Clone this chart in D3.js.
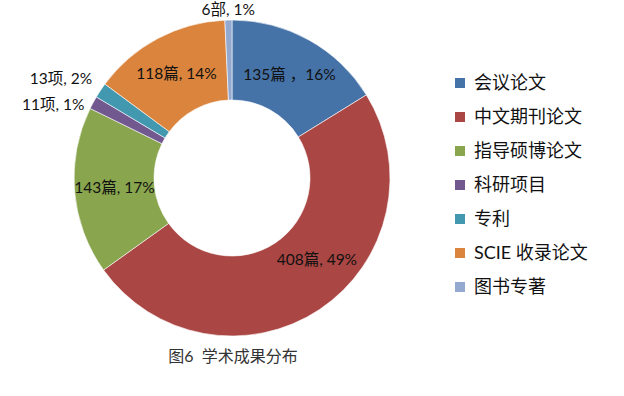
<!DOCTYPE html>
<html lang="zh">
<head>
<meta charset="utf-8">
<title>学术成果分布</title>
<script src="https://d3js.org/d3.v7.min.js"></script>
<style>
    body { margin: 0; background: #fff; }
    svg text { font-family: Lato, "Noto Sans CJK SC", sans-serif; }
</style>
</head>
<body>
<div id="chart"></div>
<script>
// Data
var categories = ["会议论文", "中文期刊论文", "指导硕博论文", "科研项目", "专利", "SCIE 收录论文", "图书专著"];
var counts = [135, 408, 143, 11, 13, 118, 6];
var units = ["篇 ，", "篇, ", "篇, ", "项, ", "项, ", "篇, ", "部, "];
var colors = ["#4572A7", "#AA4643", "#89A54E", "#71588F", "#4198AF", "#DB843D", "#93A9CF"];
var title = "图6  学术成果分布";

var width = 624, height = 396;
var cx = 232, cy = 178, outerR = 158, innerR = 78;
var total = d3.sum(counts);

var svg = d3.select("#chart").append("svg")
    .attr("width", width)
    .attr("height", height);

var data = categories.map(function(c, i){
    return {name: c, value: counts[i], unit: units[i], color: colors[i]};
});

var pie = d3.pie().sort(null).value(d => d.value);
var arc = d3.arc().innerRadius(innerR).outerRadius(outerR);
var arcs = pie(data);

var g = svg.append("g").attr("transform", "translate(" + cx + "," + cy + ")");

g.selectAll("path")
    .data(arcs)
    .enter()
    .append("path")
    .attr("d", arc)
    .attr("fill", d => d.data.color)
    .attr("stroke", "#fff")
    .attr("stroke-width", 0.6);

// Labels: inside the ring for big slices, outside for small ones
var labels = arcs.map(function(d){
    var pct = Math.round(d.data.value / total * 100);
    var mid = (d.startAngle + d.endAngle) / 2;
    var txt = d.data.value + d.data.unit + pct + "%";
    if (d.data.value / total > 0.05) {
        // very wide slices: label sits a bit before the middle (like excel's best fit)
        if (d.endAngle - d.startAngle > Math.PI / 2) mid = d.startAngle + (d.endAngle - d.startAngle) * 0.43;
        var r = (innerR + outerR) / 2;
        return {text: txt, x: Math.sin(mid) * r, y: -Math.cos(mid) * r, anchor: "middle"};
    }
    var r = outerR + 10;
    var x = Math.sin(mid) * r, y = -Math.cos(mid) * r;
    var anchor = Math.abs(x) < 20 ? "middle" : (x < 0 ? "end" : "start");
    return {text: txt, x: x, y: y, anchor: anchor, outside: true};
});

// push apart outside labels that sit too close
var outside = labels.filter(l => l.outside && l.anchor != "middle").sort((a, b) => a.y - b.y);
for (var k = 0; k < 20; k++) {
    for (var j = 1; j < outside.length; j++) {
        var gap = outside[j].y - outside[j-1].y;
        if (gap < 26) {
            var push = (26 - gap) / 2;
            outside[j].y += push;
            outside[j-1].y -= push;
        }
    }
}

g.selectAll("text.lbl")
    .data(labels)
    .enter()
    .append("text")
    .attr("class", "lbl")
    .attr("x", d => d.x)
    .attr("y", d => d.y)
    .attr("dy", "0.35em")
    .attr("text-anchor", d => d.anchor)
    .attr("font-size", "15.5px")
    .attr("fill", "#111")
    .text(d => d.text);

// Legend
var legend = svg.append("g").attr("transform", "translate(455,83)");
var row = d3.scaleBand().domain(categories).range([0, 34 * categories.length]);

var items = legend.selectAll("g")
    .data(data)
    .enter()
    .append("g")
    .attr("transform", d => "translate(0," + row(d.name) + ")");

items.append("rect")
    .attr("x", 0)
    .attr("y", -5)
    .attr("width", 10)
    .attr("height", 10)
    .attr("fill", d => d.color);

items.append("text")
    .attr("x", 19)
    .attr("dy", "0.36em")
    .attr("font-size", "18px")
    .attr("fill", "#111")
    .text(d => d.name);

// Caption
svg.append("text")
    .attr("x", 233)
    .attr("y", 362)
    .attr("text-anchor", "middle")
    .attr("font-size", "16px")
    .attr("fill", "#333")
    .style("white-space", "pre")
    .text(title);
</script>
</body>
</html>
